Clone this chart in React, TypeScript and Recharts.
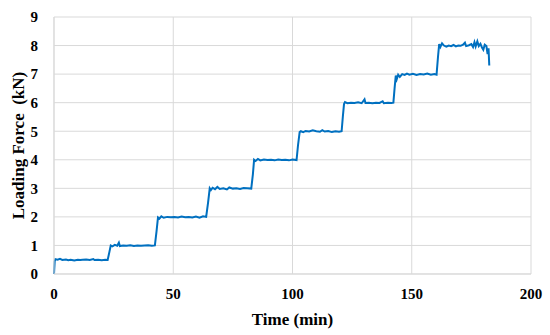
import { LineChart, Line, XAxis, YAxis, CartesianGrid, Label } from "recharts";

document.body.style.margin = "0";

// time (min) and loading force (kN)
const timeMin = [
  0, 0.3, 0.6, 1.5, 2.5, 3.5, 5, 6, 7, 8.5, 10, 11, 12, 13.5, 15, 16.5, 17, 18.5, 20, 21.5, 22.5,
  23.3, 23.8, 24.5, 25.5, 26.5, 27.2, 27.6, 29, 30.5, 32, 33.5, 35, 36.5, 38, 39.5, 41, 42.3,
  43.0, 43.6, 44.2, 45, 46, 47.5, 49, 50.5, 52, 53.5, 55, 56.5, 58, 59.5, 61, 62.5, 63.8,
  64.6, 65.3, 65.8, 66.5, 67.5, 68.5, 69.5, 71, 72.5, 73.5, 75, 76.5, 78, 79.5, 81, 82.7,
  83.4, 83.9, 84.5, 85.5, 86.5, 88, 89.5, 91, 92.5, 94, 95.5, 97, 98.5, 100, 101.7,
  102.3, 103.0, 103.5, 104.5, 105.5, 107, 108.5, 110, 111.5, 112.5, 113.5, 115, 116.5, 118, 119.5, 120.6,
  121.1, 121.6, 122, 123, 124.5, 126, 127.5, 129, 130.2, 130.6, 132, 133.5, 135, 136.5, 137.8, 138.3, 140, 141.5, 142.3,
  142.8, 143.3, 143.7, 144.3, 145, 146, 147, 148, 149, 150.5, 152, 153.5, 155, 156.5, 158, 159.5, 160.4,
  161, 161.5, 162, 162.7, 163.5, 164.5, 165.5, 166.5, 167.5, 168.5, 169.5, 170.5, 171.5, 172.3, 172.8,
  174, 175, 175.7, 176.3, 176.8, 177.5, 178.1, 178.8, 179.5, 180, 180.6, 181.3, 181.8, 182.2, 182.5,
];

const forceKN = [
  0, 0.45, 0.52, 0.5, 0.53, 0.49, 0.51, 0.48, 0.5, 0.47, 0.5, 0.49, 0.5, 0.51, 0.49, 0.52, 0.49, 0.5, 0.48, 0.5, 0.49,
  0.8, 1.0, 0.97, 1.02, 0.99, 1.1, 0.98, 1.0, 0.99, 1.01, 0.98, 1.0, 0.99, 1.0, 1.01, 0.99, 1.0,
  1.5, 1.98, 1.94, 2.02, 1.97, 2.0, 1.99, 2.0, 1.98, 2.01, 1.99, 2.0, 1.98, 2.01, 1.97, 2.02, 2.0,
  2.5, 3.0, 2.94, 3.02, 2.97, 3.05, 2.98, 3.0, 2.96, 3.03, 2.99, 3.0, 2.98, 3.01, 3.0, 2.99,
  3.5, 4.0, 3.96, 4.03, 3.98, 4.01, 3.99, 4.0, 3.98, 4.01, 3.99, 4.0, 3.98, 4.01, 3.99,
  4.5, 4.97, 5.0, 4.97, 5.01, 4.99, 5.03, 5.0, 4.98, 5.04, 4.99, 5.01, 4.97, 5.0, 4.98, 5.0,
  5.5, 5.95, 6.02, 5.98, 6.0, 5.99, 6.01, 5.98, 6.12, 5.99, 6.0, 5.98, 6.0, 5.99, 6.05, 5.98, 6.0, 5.99, 6.0,
  6.5, 6.95, 6.82, 6.98, 6.9, 7.0, 6.97, 7.02, 6.98, 7.01, 6.97, 7.0, 6.99, 7.02, 6.98, 7.0, 6.98,
  7.6, 8.05, 7.95, 8.08, 8.0, 7.96, 8.0, 7.98, 8.02, 7.97, 8.0, 7.99, 8.03, 8.1, 7.98,
  8.01, 8.05, 7.95, 8.12, 7.97, 8.15, 7.98, 8.06, 7.92, 7.85, 8.03, 7.98, 7.7, 7.9, 7.3,
];

const xTicks = [0, 50, 100, 150, 200];
const yTicks = [0, 1, 2, 3, 4, 5, 6, 7, 8, 9];

const data = timeMin.map((t, i) => ({ time: t, force: forceKN[i] }));

const font = "'Liberation Serif', 'Times New Roman', serif";
const tickStyle = { fill: "#000", fontSize: 15, fontWeight: 700, fontFamily: font };

export default function App() {
  return (
    <div style={{ width: 550, height: 335, background: "#fff" }}>
      <LineChart width={550} height={335} data={data} margin={{ top: 17, right: 19, bottom: 0, left: 0 }}>
        <CartesianGrid stroke="#d9d9d9" strokeWidth={1} />
        <XAxis
          dataKey="time"
          type="number"
          domain={[0, 200]}
          ticks={xTicks}
          tick={tickStyle}
          tickLine={false}
          tickSize={0}
          tickMargin={14}
          axisLine={{ stroke: "#d9d9d9" }}
          height={61}
        >
          <Label
            value="Time (min)"
            position="insideBottom"
            offset={10}
            style={{ fill: "#000", fontSize: 17, fontWeight: 700, fontFamily: font }}
          />
        </XAxis>
        <YAxis
          type="number"
          domain={[0, 9]}
          ticks={yTicks}
          tick={tickStyle}
          tickLine={false}
          tickSize={0}
          tickMargin={16}
          axisLine={{ stroke: "#d9d9d9" }}
          width={54}
          interval={0}
        >
          <Label
            value={"Loading Force\u00a0 (kN)"}
            angle={-90}
            position="insideLeft"
            offset={18}
            style={{ fill: "#000", fontSize: 17, fontWeight: 700, fontFamily: font, textAnchor: "middle" }}
          />
        </YAxis>
        <Line
          type="linear"
          dataKey="force"
          stroke="#0070C0"
          strokeWidth={2}
          dot={false}
          isAnimationActive={false}
        />
      </LineChart>
    </div>
  );
}
